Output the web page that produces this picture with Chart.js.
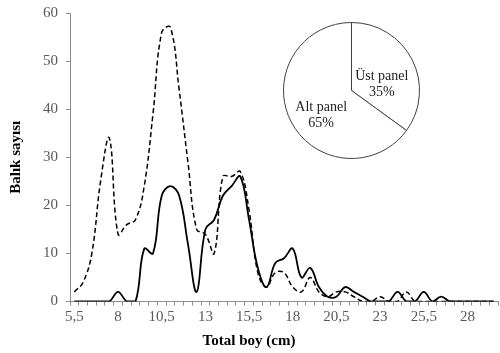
<!DOCTYPE html>
<html>
<head>
<meta charset="utf-8">
<script src="https://cdn.jsdelivr.net/npm/chart.js@4"></script>
<style>
  body { margin: 0; background: #fff; }
  #wrap { position: relative; width: 500px; height: 353px; }
  #pie { position: absolute; left: 283px; top: 22px; }
</style>
</head>
<body>
<div id="wrap">
  <canvas id="main" width="500" height="353"></canvas>
  <canvas id="pie" width="137" height="137"></canvas>
</div>
<script>
// length classes (cm), 0.5 cm steps
const sizes = ['5,5','6','6,5','7','7,5','8','8,5','9','9,5','10','10,5','11','11,5','12','12,5',
  '13','13,5','14','14,5','15','15,5','16','16,5','17','17,5','18','18,5','19','19,5','20',
  '20,5','21','21,5','22','22,5','23','23,5','24','24,5','25','25,5','26','26,5','27','27,5',
  '28','28,5','29','29,5'];

// Üst panel (solid line)
const ustPanel = [0,0,0,0,0,2,0,0,11,10,22,24,22,12,2,15,17,22,24,26,17,7,3,8,9,11,5,7,3,1,
  1,3,2,1,0,0,0,2,0,0,2,0,1,0,0,0,0,0,0];

// Alt panel (dashed line)
const altPanel = [2,4,10,25,34,14,16,17,24,39,56,57,44,29,15,14,10,26,26,27,19,6,3,6,6,3,2,5,2,1,
  2,2,1,0,0,1,0,0,2,0,0,0,0,0,0,0,0,0,0];

const pieLabels = ['Üst panel', 'Alt panel'];
const piePercent = [35, 65];

const serif = 'Liberation Serif';
const gray = '#595959';
const axisGray = '#8c8c8c';

new Chart(document.getElementById('main').getContext('2d'), {
  type: 'line',
  data: {
    labels: sizes,
    datasets: [
      {
        label: 'Üst panel',
        data: ustPanel,
        borderColor: '#000',
        borderWidth: 1.8,
        pointRadius: 0,
        tension: 0.4,
        fill: false
      },
      {
        label: 'Alt panel',
        data: altPanel,
        borderColor: '#000',
        borderWidth: 1.5,
        borderDash: [5, 3],
        pointRadius: 0,
        tension: 0.4,
        fill: false
      }
    ]
  },
  options: {
    responsive: false,
    animation: false,
    layout: { padding: { top: 0, right: 2, left: 0, bottom: 0 } },
    plugins: {
      legend: { display: false },
      tooltip: { enabled: false },
      title: {
        display: true,
        position: 'bottom',
        text: 'Total boy (cm)',
        color: '#000',
        font: { family: serif, size: 15, weight: 'bold' },
        padding: { top: 0, bottom: 3 }
      }
    },
    scales: {
      x: {
        offset: true,
        grid: { offset: true, drawOnChartArea: false, drawTicks: true, tickLength: 4, color: axisGray },
        border: { display: true, color: axisGray },
        ticks: {
          autoSkip: false,
          maxRotation: 0,
          padding: 3,
          color: gray,
          font: { family: serif, size: 15 },
          callback: function (val, idx) {
            return idx % 5 === 0 ? sizes[idx] : '';
          }
        },
        afterFit: function (scale) { scale.height = 30.5; }
      },
      y: {
        min: 0,
        max: 60,
        grid: { drawOnChartArea: false, drawTicks: true, tickLength: 4, color: axisGray },
        border: { display: true, color: axisGray },
        ticks: {
          stepSize: 10,
          padding: 8,
          color: gray,
          font: { family: serif, size: 15 }
        },
        title: {
          display: true,
          text: 'Balık sayısı',
          color: '#000',
          font: { family: serif, size: 15, weight: 'bold' },
          padding: { top: 7, bottom: 0 }
        },
        afterFit: function (scale) {
          scale.width = 70;
          scale.paddingTop = 13;
        }
      }
    }
  }
});

// labels inside the pie slices
const pieText = {
  id: 'pieText',
  afterDatasetsDraw(chart) {
    const ctx = chart.ctx;
    const arcs = chart.getDatasetMeta(0).data;
    ctx.save();
    ctx.fillStyle = '#222';
    ctx.font = '14px "' + serif + '"';
    ctx.textAlign = 'center';
    ctx.textBaseline = 'middle';
    arcs.forEach((arc, i) => {
      const p = arc.getProps(['x', 'y', 'startAngle', 'endAngle', 'outerRadius'], true);
      const mid = (p.startAngle + p.endAngle) / 2;
      const r = p.outerRadius * 0.5;
      const cx = p.x + Math.cos(mid) * r;
      const cy = p.y + Math.sin(mid) * r + 9;
      ctx.fillText(pieLabels[i], cx, cy - 8);
      ctx.fillText(piePercent[i] + '%', cx, cy + 8);
    });
    ctx.restore();
  }
};

new Chart(document.getElementById('pie').getContext('2d'), {
  type: 'pie',
  data: {
    labels: pieLabels,
    datasets: [{
      data: piePercent,
      backgroundColor: '#fff',
      borderColor: '#404040',
      borderWidth: 1
    }]
  },
  options: {
    responsive: false,
    animation: false,
    layout: { padding: 0 },
    plugins: { legend: { display: false }, tooltip: { enabled: false } }
  },
  plugins: [pieText]
});
</script>
</body>
</html>
